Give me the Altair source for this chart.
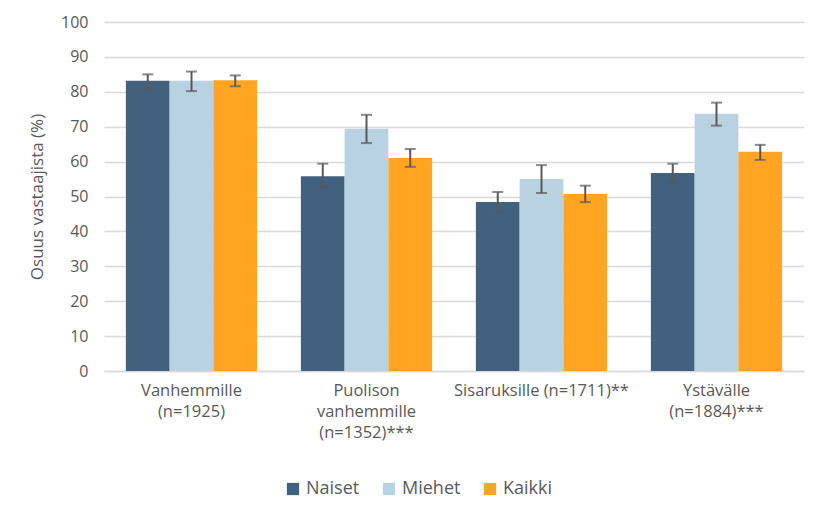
import altair as alt
import pandas as pd

categories = ["Vanhemmille|(n=1925)", "Puolison|vanhemmille|(n=1352)***",
              "Sisaruksille (n=1711)**", "Ystävälle|(n=1884)***"]
groups = ["Naiset", "Miehet", "Kaikki"]
colors = ["#41617f", "#b9d2e1", "#ffa521"]

values = {
    "Naiset": [83.2, 55.8, 48.4, 56.7],
    "Miehet": [83.2, 69.4, 55.0, 73.7],
    "Kaikki": [83.3, 61.0, 50.7, 62.8],
}
low = {
    "Naiset": [80.7, 52.6, 45.6, 53.9],
    "Miehet": [80.2, 65.3, 51.0, 70.3],
    "Kaikki": [81.6, 58.5, 48.4, 60.5],
}
high = {
    "Naiset": [85.0, 59.4, 51.3, 59.4],
    "Miehet": [85.8, 73.4, 59.0, 76.9],
    "Kaikki": [84.7, 63.6, 53.1, 64.8],
}
y_ticks = [0, 10, 20, 30, 40, 50, 60, 70, 80, 90, 100]

rows = []
for g in groups:
    for i, c in enumerate(categories):
        rows.append({"cat": c, "group": g, "value": values[g][i],
                     "lo": low[g][i], "hi": high[g][i]})
df = pd.DataFrame(rows)

FONT = "Open Sans"
GREY = "#595959"

x = alt.X("cat:N", sort=categories, title=None,
          scale=alt.Scale(paddingInner=0.25, paddingOuter=0.125),
          axis=alt.Axis(labelAngle=0, labelExpr="split(datum.label, '|')",
                        ticks=False, domainColor="#d9d9d9", domainWidth=1.5,
                        labelFontSize=16.5, labelColor=GREY, labelFont=FONT,
                        labelPadding=11, labelLineHeight=21, labelLimit=300))
xoff = alt.XOffset("group:N", sort=groups)
yscale = alt.Scale(domain=[0, 100])
yaxis = alt.Axis(values=y_ticks, domain=False, ticks=False,
                 gridColor="#d9d9d9", gridWidth=1.5,
                 labelFontSize=16, labelColor=GREY, labelFont=FONT,
                 labelPadding=16, titleFontSize=17, titleColor=GREY,
                 titleFont=FONT, titleFontWeight="normal", titlePadding=14)
YT = "Osuus vastaajista (%)"

base = alt.Chart(df)

bars = base.mark_bar().encode(
    x=x,
    xOffset=xoff,
    y=alt.Y("value:Q", scale=yscale, title=YT, axis=yaxis),
    color=alt.Color("group:N", sort=groups,
                    scale=alt.Scale(domain=groups, range=colors),
                    legend=alt.Legend(title=None, orient="none", direction="horizontal",
                                      legendX=180, legendY=458,
                                      symbolType="square", symbolSize=150,
                                      labelFontSize=18, labelColor=GREY, labelFont=FONT,
                                      columnPadding=20, symbolStrokeWidth=0)),
)

rules = base.mark_rule(color=GREY, strokeWidth=2).encode(
    x=x, xOffset=xoff, y=alt.Y("lo:Q", scale=yscale, title=YT, axis=yaxis), y2="hi:Q")
caps_lo = base.mark_tick(color=GREY, thickness=2, size=11).encode(
    x=x, xOffset=xoff, y=alt.Y("lo:Q", scale=yscale, title=YT, axis=yaxis))
caps_hi = base.mark_tick(color=GREY, thickness=2, size=11).encode(
    x=x, xOffset=xoff, y=alt.Y("hi:Q", scale=yscale, title=YT, axis=yaxis))

chart = alt.layer(bars, rules, caps_lo, caps_hi).properties(
    width=700, height=349, padding={"left": 20, "top": 6, "right": 5, "bottom": 5}
).configure_view(stroke=None)

chart.save("out.html", embed_options={"renderer": "svg", "actions": False})
